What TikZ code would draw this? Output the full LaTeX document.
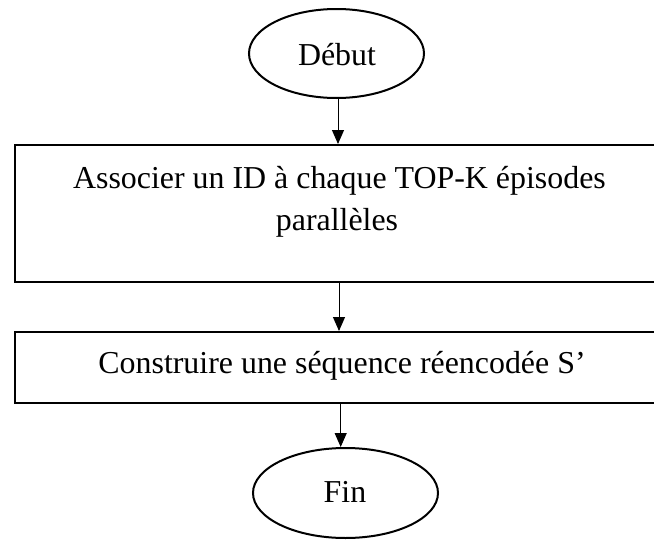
\documentclass[tikz,border=0pt]{standalone}
\usepackage{fontspec}
\setmainfont{Liberation Serif}
\usetikzlibrary{shapes.geometric,arrows.meta}
\begin{document}
\begin{tikzpicture}[x=1pt,y=-1pt,
  shapeline/.style={draw=black,line width=2pt},
  oval/.style={shapeline,ellipse,inner sep=0pt},
  box/.style={shapeline,rectangle,inner sep=0pt},
  txt/.style={font=\fontsize{31.9}{42}\selectfont,inner sep=0pt,anchor=base},
  flow/.style={line width=1pt,-{Triangle[width=12pt,length=14pt]}}]
\useasboundingbox (0,0) rectangle (654,541);
\node[oval,minimum width=175pt,minimum height=89pt] (debut) at (336.5,53.5) {};
\node[txt] (tdebut) at (337,65) {Début};
\node[box,minimum width=642pt,minimum height=137pt] (box1) at (336,213.5) {};
\node[txt] (t1a) at (339.5,188) {Associer un ID à chaque TOP-K épisodes};
\node[txt] (t1b) at (337,230) {parallèles};
\node[box,minimum width=642pt,minimum height=71pt] (box2) at (336,367.5) {};
\node[txt] (t2) at (342,373) {Construire une séquence réencodée S’};
\node[oval,minimum width=185pt,minimum height=90pt] (fin) at (345.5,493) {};
\node[txt] (tfin) at (345,502) {Fin};
\draw[flow] (debut.south -| 338,0) -- (box1.north -| 338,0);
\draw[flow] (box1.south -| 339,0) -- (box2.north -| 339,0);
\draw[flow] (box2.south -| 340.7,0) -- (fin.north -| 340.7,0);
\end{tikzpicture}
\end{document}
